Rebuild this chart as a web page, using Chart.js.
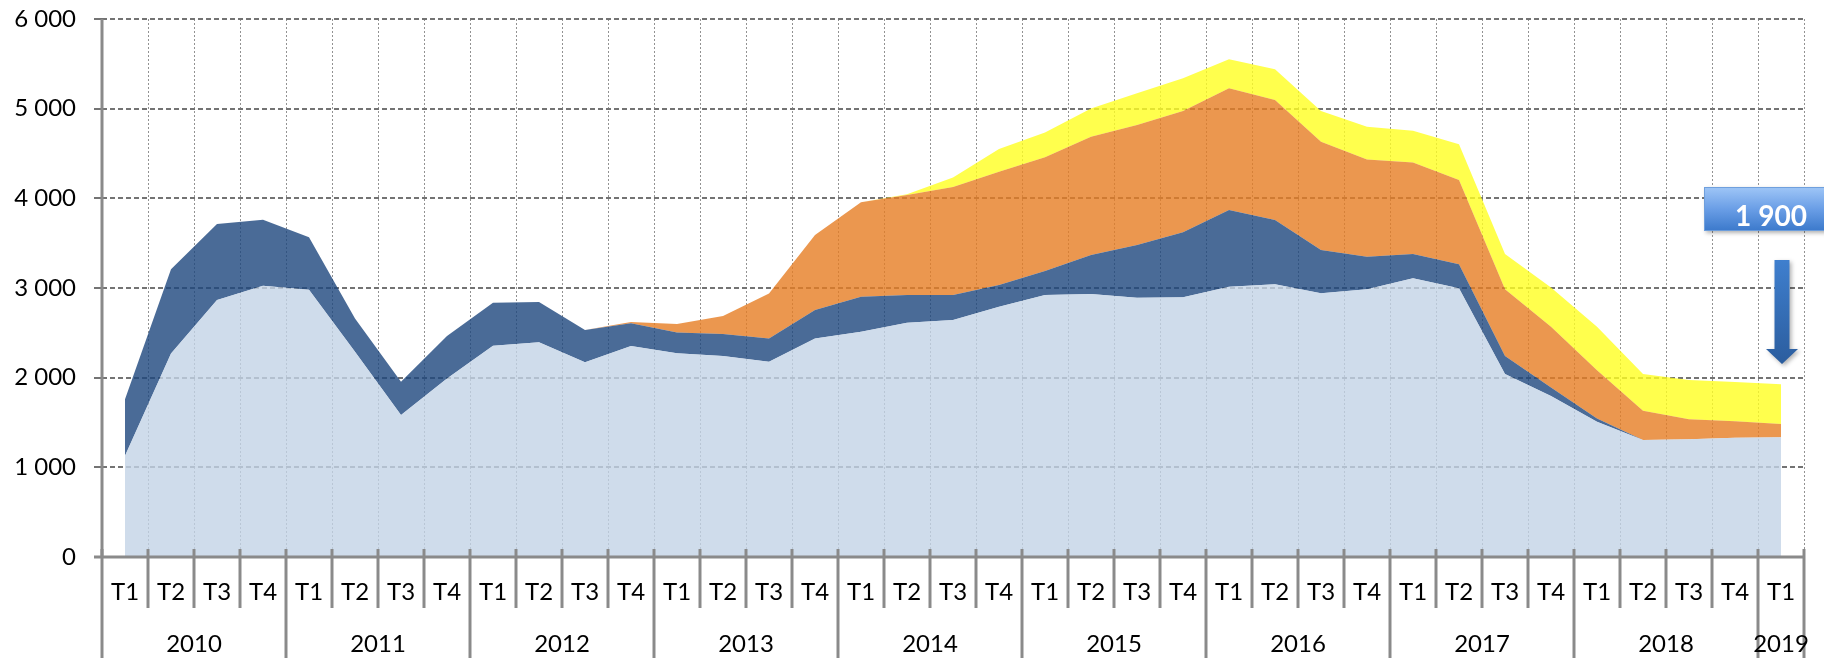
<!DOCTYPE html>
<html>
<head>
<meta charset="utf-8">
<script src="https://cdn.jsdelivr.net/npm/chart.js@4.4.1/dist/chart.umd.min.js"></script>
<style>
  html, body { margin: 0; padding: 0; background: #fff; }
  #wrap { width: 1824px; height: 658px; position: relative; }
</style>
</head>
<body>
<div id="wrap"><canvas id="graf"></canvas></div>
<script>
// Trimestres
const quarterLabels = [
  'T1','T2','T3','T4', 'T1','T2','T3','T4', 'T1','T2','T3','T4',
  'T1','T2','T3','T4', 'T1','T2','T3','T4', 'T1','T2','T3','T4',
  'T1','T2','T3','T4', 'T1','T2','T3','T4', 'T1','T2','T3','T4',
  'T1'
];
const yearLabels = ['2010','2011','2012','2013','2014','2015','2016','2017','2018','2019'];
const yearSpans  = [4, 4, 4, 4, 4, 4, 4, 4, 4, 1];

// Séries empilées
const serieBleuClair = [1130, 2270, 2866, 3026, 2981, 2290, 1584, 1992, 2357, 2394, 2171, 2353,
  2271, 2241, 2178, 2437, 2513, 2613, 2643, 2791, 2922, 2933, 2892, 2896,
  3014, 3041, 2941, 2985, 3110, 2996, 2041, 1795, 1509, 1305, 1312, 1331, 1335];
const serieBleuFonce = [630, 940, 847, 736, 584, 370, 371, 473, 479, 450, 360, 253,
  234, 246, 259, 317, 390, 309, 279, 242, 267, 435, 587, 725,
  856, 717, 483, 364, 269, 268, 201, 95, 37, 0, 0, 0, 0];
const serieOrange = [0, 0, 0, 0, 0, 0, 0, 0, 0, 0, 0, 15,
  93, 201, 503, 837, 1052, 1115, 1204, 1264, 1268, 1320, 1339, 1353,
  1357, 1339, 1208, 1085, 1021, 940, 743, 679, 536, 327, 224, 182, 148];
const serieJaune = [0, 0, 0, 0, 0, 0, 0, 0, 0, 0, 0, 0,
  0, 0, 0, 0, 0, 8, 107, 253, 276, 315, 353, 364,
  323, 342, 342, 365, 355, 398, 394, 436, 487, 409, 438, 438, 443];

// Étiquette de la flèche
const calloutText = '1 900';

const fmt = v => String(v).replace(/\B(?=(\d{3})+(?!\d))/g, ' ');
const police = 'Lato, "Open Sans", sans-serif';

// Ligne des années + séparateurs + encadré
const axeAnnees = {
  id: 'axeAnnees',
  afterDraw(chart) {
    const { ctx, scales: { x, y } } = chart;
    const axe = x.top;
    const demi = (x.getPixelForValue(1) - x.getPixelForValue(0)) / 2;
    const debuts = [0];
    yearSpans.forEach(n => debuts.push(debuts[debuts.length - 1] + n));

    ctx.save();
    ctx.strokeStyle = '#8a8a8a';
    ctx.lineWidth = 3;
    // axe vertical et axe horizontal pleins
    ctx.beginPath();
    ctx.moveTo(Math.round(x.left), y.top);
    ctx.lineTo(Math.round(x.left), axe);
    ctx.moveTo(x.left - 8, axe);
    ctx.lineTo(x.right, axe);
    ctx.stroke();
    for (let i = 0; i <= quarterLabels.length; i++) {
      const px = Math.round(x.getPixelForValue(i) - demi);
      const bas = debuts.includes(i) ? chart.height : axe + 51;
      ctx.beginPath();
      ctx.moveTo(px, axe - 8);
      ctx.lineTo(px, bas);
      ctx.stroke();
    }

    ctx.fillStyle = '#000';
    ctx.font = '24px ' + police;
    ctx.textAlign = 'center';
    ctx.textBaseline = 'middle';
    yearLabels.forEach((a, k) => {
      const g = x.getPixelForValue(debuts[k]) - demi;
      const d = x.getPixelForValue(debuts[k + 1] - 1) + demi;
      ctx.fillText(a, (g + d) / 2, axe + 87);
    });

    // flèche
    const cx = x.getPixelForValue(quarterLabels.length - 1) + 1;
    const yHaut = y.getPixelForValue(3312);
    const yTete = y.getPixelForValue(2320);
    const yPointe = y.getPixelForValue(2152);
    const gradF = ctx.createLinearGradient(0, yHaut, 0, yPointe);
    gradF.addColorStop(0, '#3f7fce');
    gradF.addColorStop(1, '#2b5d9e');
    ctx.shadowColor = 'rgba(0,0,0,0.3)';
    ctx.shadowBlur = 4;
    ctx.shadowOffsetX = 2;
    ctx.shadowOffsetY = 2;
    ctx.fillStyle = gradF;
    ctx.beginPath();
    ctx.moveTo(cx - 7.5, yHaut);
    ctx.lineTo(cx + 7.5, yHaut);
    ctx.lineTo(cx + 7.5, yTete);
    ctx.lineTo(cx + 16, yTete);
    ctx.lineTo(cx, yPointe);
    ctx.lineTo(cx - 16, yTete);
    ctx.lineTo(cx - 7.5, yTete);
    ctx.closePath();
    ctx.fill();

    // encadré
    const bx = cx - 78, bTop = y.getPixelForValue(4126), bBas = y.getPixelForValue(3636);
    const gradB = ctx.createLinearGradient(0, bTop, 0, bBas);
    gradB.addColorStop(0, '#9fc6f7');
    gradB.addColorStop(0.5, '#6a9ee6');
    gradB.addColorStop(1, '#3b79cb');
    ctx.fillStyle = gradB;
    ctx.fillRect(bx, bTop, 140, bBas - bTop);
    ctx.shadowColor = 'transparent';
    ctx.strokeStyle = '#6f9fdc';
    ctx.lineWidth = 1;
    ctx.strokeRect(bx + 0.5, bTop + 0.5, 140, bBas - bTop - 1);
    ctx.fillStyle = '#fff';
    ctx.font = 'bold 28px ' + police;
    ctx.textBaseline = 'alphabetic';
    ctx.fillText(calloutText, cx - 11, bBas - 5);
    ctx.restore();
  }
};

const ctx = document.getElementById('graf').getContext('2d');
const chart = new Chart(ctx, {
  type: 'line',
  data: {
    labels: quarterLabels,
    datasets: [
      { data: serieBleuClair, backgroundColor: 'rgba(195,211,230,0.8)', fill: 'origin' },
      { data: serieBleuFonce, backgroundColor: 'rgba(29,70,125,0.8)', fill: '-1' },
      { data: serieOrange, backgroundColor: 'rgba(230,125,35,0.8)', fill: '-1' },
      { data: serieJaune, backgroundColor: 'rgba(255,255,33,0.8)', fill: '-1' }
    ]
  },
  options: {
    responsive: true,
    maintainAspectRatio: false,
    animation: false,
    layout: { padding: { top: 19, right: 20, left: 0, bottom: 0 } },
    elements: {
      line: { borderWidth: 0, tension: 0 },
      point: { radius: 0 }
    },
    plugins: { legend: { display: false }, tooltip: { enabled: false } },
    scales: {
      x: {
        offset: true,
        grid: { offset: true, color: 'rgba(110,110,110,0.75)', lineWidth: 1, drawTicks: false },
        border: { display: false, dash: [2, 2] },
        ticks: { color: '#000', font: { family: police, size: 24 }, padding: 21, maxRotation: 0, autoSkip: false },
        afterFit: s => { s.height = 101; s.paddingLeft = 0; s.paddingRight = 0; }
      },
      y: {
        stacked: true,
        min: 0,
        max: 6000,
        grid: { color: '#737373', lineWidth: 2, tickLength: 8, tickColor: '#737373' },
        border: { display: false, dash: [5, 3] },
        ticks: { stepSize: 1000, color: '#000', font: { family: police, size: 24 }, padding: 18, callback: v => fmt(v) },
        afterFit: s => { s.width = 102; s.paddingTop = 0; s.paddingBottom = 0; }
      }
    }
  },
  plugins: [axeAnnees]
});
</script>
</body>
</html>
